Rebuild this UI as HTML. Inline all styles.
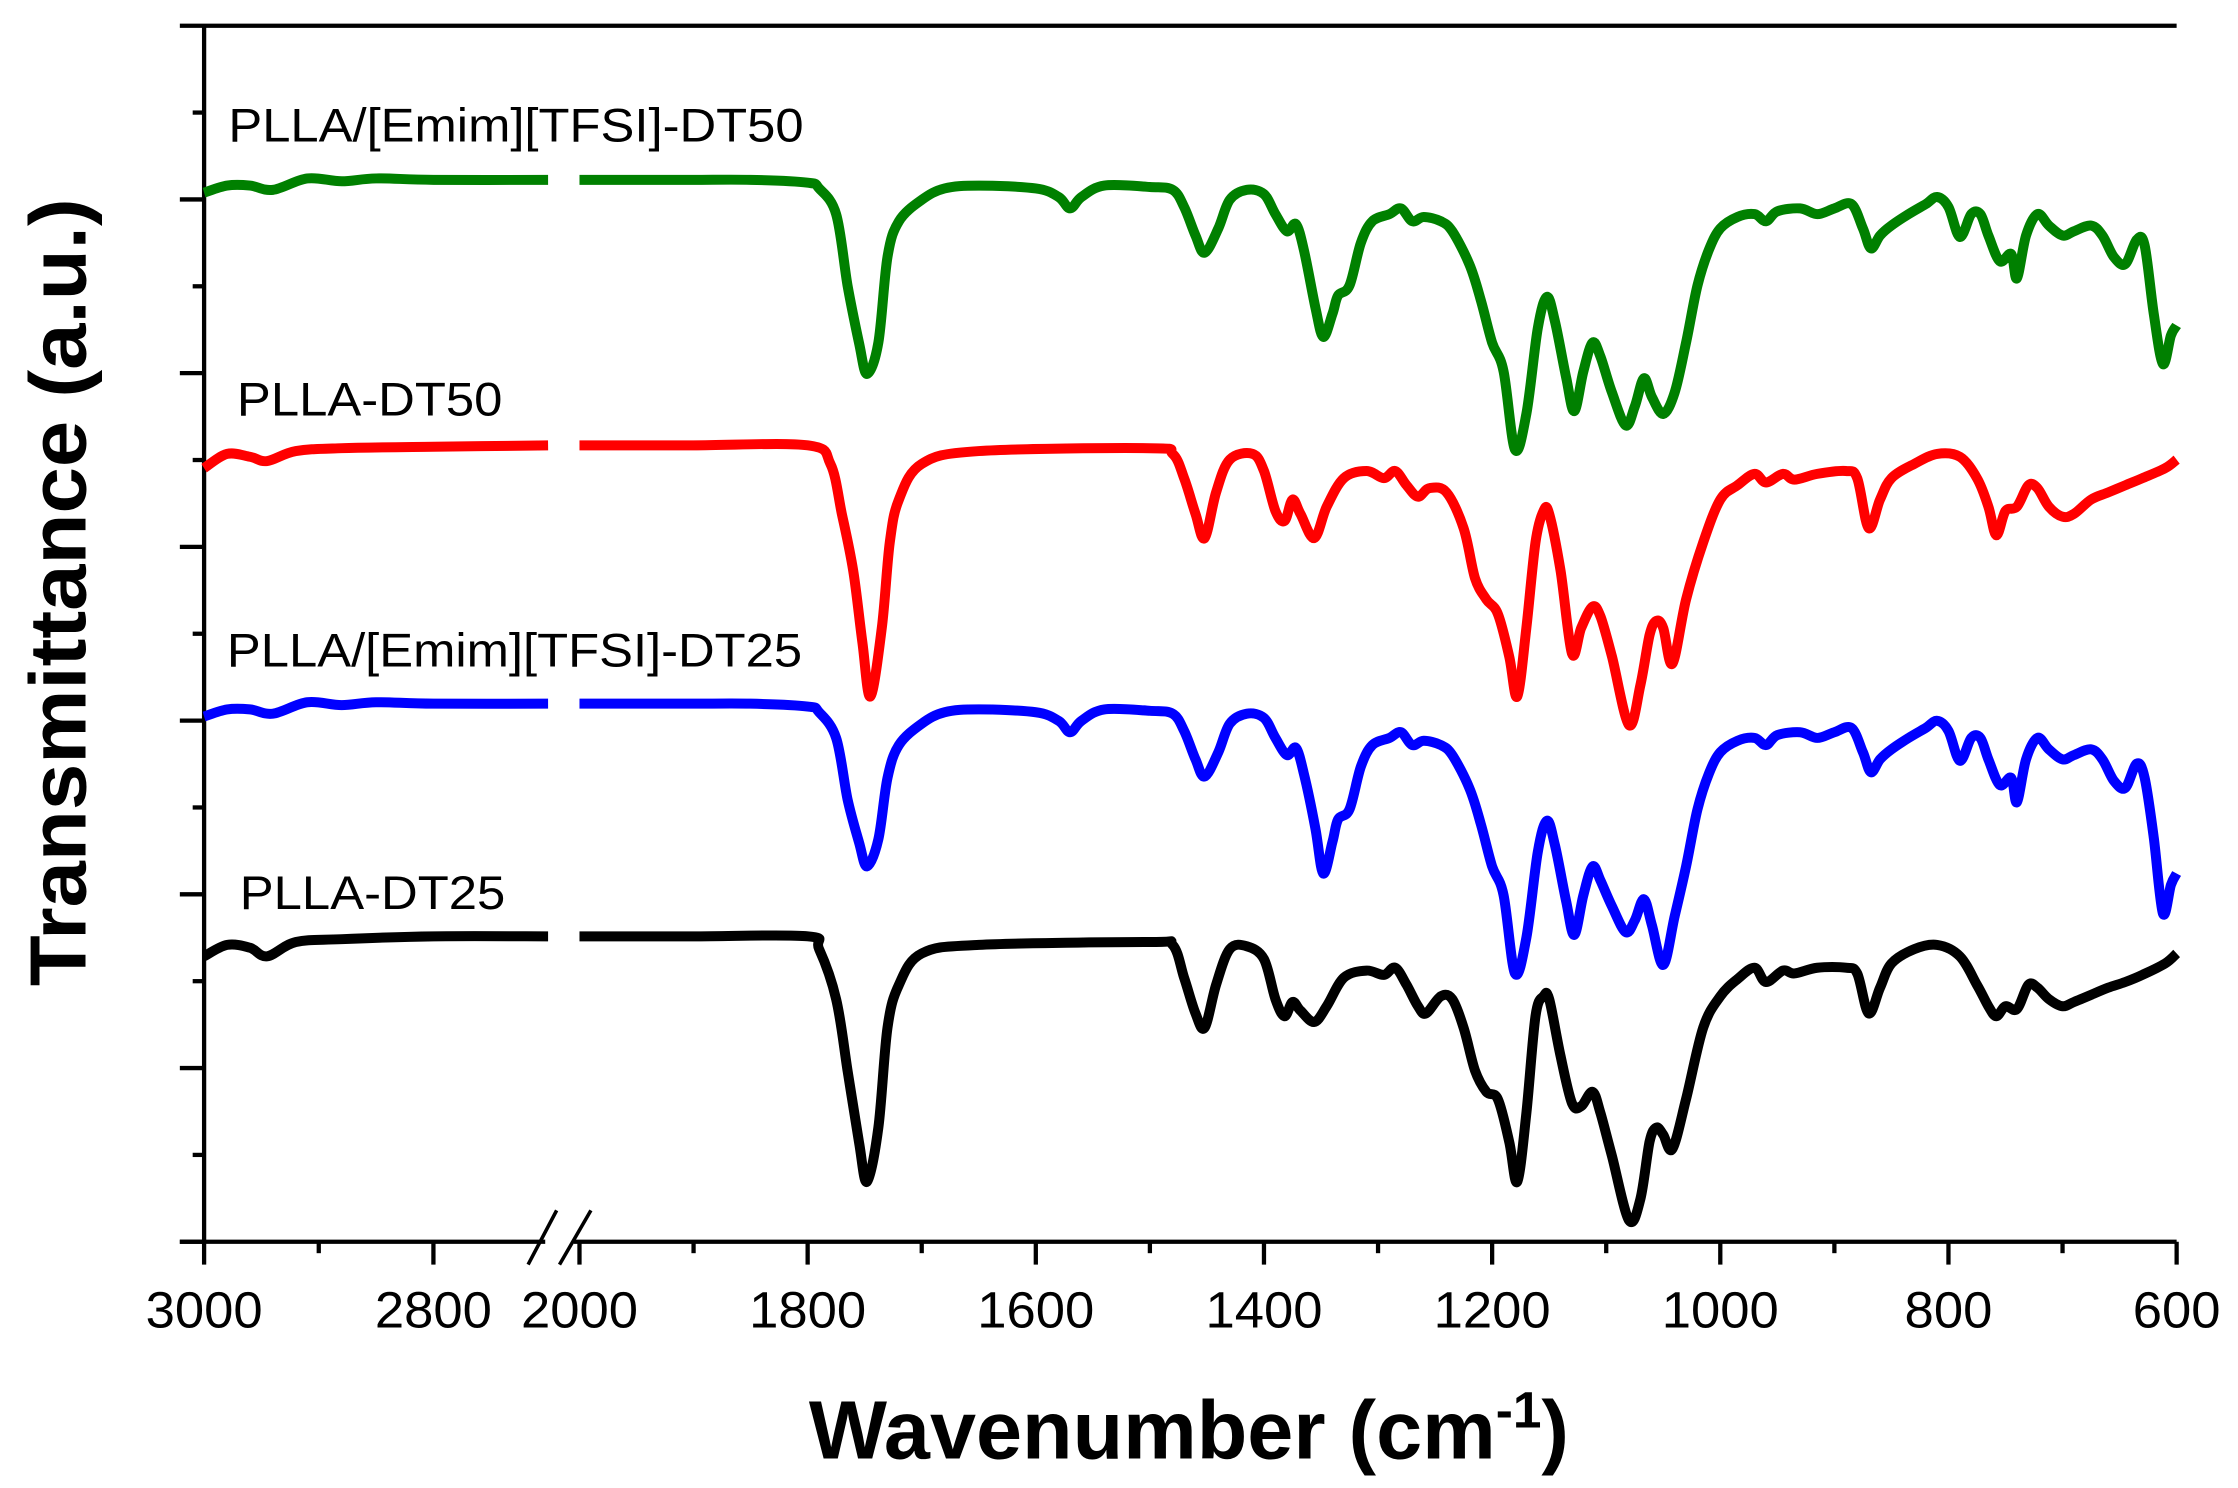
<!DOCTYPE html>
<html><head><meta charset="utf-8"><style>
html,body{margin:0;padding:0;background:#fff}
svg{display:block}
text{font-family:"Liberation Sans",Arial,sans-serif}
</style></head><body>
<svg id="chart" width="2238" height="1488" viewBox="0 0 1568 1042.5" xmlns="http://www.w3.org/2000/svg">
<g id="axes"></g>
<g id="series"></g>
<g id="labels">
<text x="160" y="99" font-size="33" textLength="403" lengthAdjust="spacingAndGlyphs">PLLA/[Emim][TFSI]-DT50</text>
<text x="166" y="291" font-size="33" textLength="186" lengthAdjust="spacingAndGlyphs">PLLA-DT50</text>
<text x="159" y="467" font-size="33" textLength="403" lengthAdjust="spacingAndGlyphs">PLLA/[Emim][TFSI]-DT25</text>
<text x="168" y="637" font-size="33" textLength="186" lengthAdjust="spacingAndGlyphs">PLLA-DT25</text>
<text x="833" y="1022" font-size="58" font-weight="bold" text-anchor="middle">Wavenumber (cm<tspan dy="-22" font-size="36">-1</tspan><tspan dy="22">)</tspan></text>
<text transform="translate(60,415) rotate(-90)" font-size="56" font-weight="bold" text-anchor="middle" textLength="552" lengthAdjust="spacingAndGlyphs">Transmittance (a.u.)</text>
</g>
</svg>
<script>
// ---- data (transmittance in arbitrary units, offset spectra) ----
const greenLeftWn=[3000,2980,2960,2940,2910,2880,2850,2800,2700];
const greenLeftT=[735,740,740,737,745,743,745,744,744];
const greenWn=[2000,1950,1900,1850,1800,1790,1775,1765,1755,1748,1738,1730,1720,1700,1680,1650,1600,1580,1570,1560,1540,1500,1480,1470,1460,1452,1440,1430,1415,1400,1390,1380,1372,1365,1355,1348,1340,1335,1325,1315,1305,1290,1280,1270,1260,1245,1235,1220,1210,1200,1190,1180,1170,1160,1152,1145,1135,1128,1120,1112,1105,1095,1083,1075,1067,1060,1050,1040,1030,1020,1010,1000,985,970,960,950,930,915,900,885,875,868,860,850,835,820,810,800,790,780,772,765,755,745,740,732,722,712,700,690,675,665,655,645,635,628,620,612,605,600];
const greenT=[744,744,744,744,742,738,720,670,630,608,630,690,715,730,738,740,738,732,724,732,740,739,737,725,705,693,710,730,737,734,720,708,713,695,655,634,650,663,670,700,715,720,724,715,718,715,708,685,660,630,610,555,580,640,662,645,605,582,610,630,620,595,572,585,605,592,580,595,630,670,695,710,718,720,715,722,724,720,724,727,710,696,705,712,720,727,732,725,704,720,720,705,687,692,675,705,720,712,705,708,712,705,690,685,702,698,650,615,635,642];
const blueLeftWn=[3000,2980,2960,2940,2910,2880,2850,2800,2700];
const blueLeftT=[368,373,373,370,378,376,378,377,377];
const blueWn=greenWn;
const blueT=[377,377,377,377,375,371,353,310,280,263,282,325,348,363,371,373,371,365,357,365,373,372,370,358,338,326,343,363,370,367,353,341,346,328,290,258,280,296,303,333,348,353,357,348,351,348,341,318,293,263,243,188,213,273,295,278,238,215,243,263,253,235,217,225,240,222,194,228,263,303,328,343,351,353,348,355,357,353,357,360,343,329,338,345,353,360,365,358,337,353,353,338,320,325,308,338,353,345,338,341,345,338,323,318,335,325,283,230,250,258];
const redLeftWn=[3000,2980,2960,2945,2920,2880,2800,2700];
const redLeftT=[542,552,550,547,554,556,557,558];
const redWn=[2000,1900,1800,1780,1770,1760,1752,1745,1735,1728,1720,1700,1650,1500,1480,1470,1460,1452,1442,1430,1410,1400,1390,1382,1375,1368,1356,1345,1330,1310,1295,1285,1275,1265,1255,1240,1225,1215,1205,1195,1185,1178,1170,1162,1155,1150,1140,1130,1122,1112,1105,1095,1080,1070,1062,1056,1050,1042,1030,1015,1000,985,970,960,945,935,915,890,880,870,860,850,830,810,790,775,765,758,750,740,730,722,712,700,690,675,660,645,630,610,600];
const redT=[558,558,558,545,510,470,420,382,430,490,520,545,554,556,552,535,510,493,525,548,552,540,512,505,520,510,493,515,535,540,535,540,530,522,528,525,500,465,450,440,410,382,430,490,512,510,470,412,430,445,438,410,362,390,425,435,430,405,450,490,520,530,538,532,538,534,538,540,535,500,520,535,545,552,550,535,515,495,512,515,530,528,515,508,510,520,525,530,535,542,548];
const blackLeftWn=[3000,2980,2960,2945,2920,2880,2800,2700];
const blackLeftT=[200,208,206,200,210,212,214,214];
const blackWn=[2000,1900,1800,1790,1775,1765,1755,1748,1738,1730,1720,1700,1650,1500,1480,1470,1460,1452,1442,1430,1415,1400,1390,1382,1375,1368,1356,1345,1330,1310,1295,1285,1275,1265,1258,1245,1235,1225,1215,1205,1195,1185,1178,1170,1162,1155,1150,1140,1130,1122,1112,1105,1095,1080,1070,1062,1056,1050,1042,1030,1015,1000,985,970,960,945,935,915,890,880,870,860,850,830,810,790,775,765,758,750,740,730,722,712,700,690,675,660,645,630,610,600];
const blackT=[214,214,214,205,170,120,70,42,80,150,180,202,208,210,208,185,160,150,180,205,207,198,170,158,168,162,154,165,185,190,187,192,180,165,160,172,170,150,120,105,100,70,42,90,158,172,170,130,97,95,105,90,60,15,30,70,80,75,65,100,150,172,184,192,182,190,188,192,192,188,160,178,195,205,208,200,180,165,158,165,163,180,178,170,165,168,173,178,182,187,195,202];
const xTicksLeft=[3000,2800];
const xMinorLeft=[2900];
const xTicksRight=[2000,1800,1600,1400,1200,1000,800,600];
const xMinorRight=[1900,1700,1500,1300,1100,900,700];
const yMajor=[1,2,3,4,5,6,7];

// ---- scales ----
const L=143,R=1525,TOP=18,BOT=870,BRK=384,RS=406;
function xLeft(w){return L+(3000-w)*(BRK-L)/300;}
function xRight(w){return RS+(2000-w)*(R-RS)/1400;}
function yS(t){return BOT-t;}
const yStep=(BOT-TOP)/7;
const NS="http://www.w3.org/2000/svg";
function mk(tag,attrs,parent){const e=document.createElementNS(NS,tag);for(const k in attrs)e.setAttribute(k,attrs[k]);parent.appendChild(e);return e;}
const axes=document.getElementById('axes');
const series=document.getElementById('series');

let e;
e=mk('line',{x1:L,y1:TOP,x2:L,y2:BOT,stroke:'#000','stroke-width':3},axes);


e=mk('line',{x1:L-17,y1:TOP,x2:R,y2:TOP,stroke:'#000','stroke-width':3},axes);


e=mk('line',{x1:L-17,y1:BOT,x2:382,y2:BOT,stroke:'#000','stroke-width':3},axes);


e=mk('line',{x1:402,y1:BOT,x2:R,y2:BOT,stroke:'#000','stroke-width':3},axes);


e=mk('path',{d:'M370,886 L390,848 M392,886 L414,848',stroke:'#000','stroke-width':2.5,fill:'none'},axes);


for(let i=0;i<7;i++){
  const y=BOT-yMajor[i]*yStep+yStep;
  e=mk('line',{x1:L-17,y1:y,x2:L,y2:y,stroke:'#000','stroke-width':3},axes);
  
  
  const ym=y-yStep/2;
  e=mk('line',{x1:L-8,y1:ym,x2:L,y2:ym,stroke:'#000','stroke-width':3},axes);
  
  
}
function xtick(x,lab,major){
  e=mk('line',{x1:x,y1:BOT,x2:x,y2:BOT+(major?16:8),stroke:'#000','stroke-width':3},axes);
  
  
  if(lab!==null){
    e=mk('text',{x:x,y:930,'font-size':36,'text-anchor':'middle',textLength:(lab.length*20.5),lengthAdjust:'spacingAndGlyphs'},axes);
    e.textContent=lab;
    
    
  }
}
xTicksLeft.forEach(w=>xtick(xLeft(w),String(w),true));
xMinorLeft.forEach(w=>xtick(xLeft(w),null,false));
xTicksRight.forEach(w=>xtick(xRight(w),String(w),true));
xMinorRight.forEach(w=>xtick(xRight(w),null,false));

// smooth path (Catmull-Rom)
function pathD(wn,t,fx){
  const p=wn.map((w,i)=>[fx(w),yS(t[i])]);
  let d='M'+p[0][0].toFixed(1)+','+p[0][1].toFixed(1);
  for(let i=0;i<p.length-1;i++){
    const p0=p[i-1]||p[i],p1=p[i],p2=p[i+1],p3=p[i+2]||p2;
    const c1x=p1[0]+(p2[0]-p0[0])/6,c1y=p1[1]+(p2[1]-p0[1])/6;
    const c2x=p2[0]-(p3[0]-p1[0])/6,c2y=p2[1]-(p3[1]-p1[1])/6;
    d+='C'+c1x.toFixed(1)+','+c1y.toFixed(1)+' '+c2x.toFixed(1)+','+c2y.toFixed(1)+' '+p2[0].toFixed(1)+','+p2[1].toFixed(1);
  }
  return d;
}
function draw(name,color,lw,lt,rw,rt){
  e=mk('path',{d:pathD(lw,lt,xLeft),stroke:color,'stroke-width':7,fill:'none','stroke-linejoin':'round','stroke-linecap':'butt'},series);
  
  
  e=mk('path',{d:pathD(rw,rt,xRight),stroke:color,'stroke-width':7,fill:'none','stroke-linejoin':'round','stroke-linecap':'butt'},series);
  
  
}
draw('series-plla-il-dt50','#008000',greenLeftWn,greenLeftT,greenWn,greenT);
draw('series-plla-dt50','#ff0000',redLeftWn,redLeftT,redWn,redT);
draw('series-plla-il-dt25','#0000ff',blueLeftWn,blueLeftT,blueWn,blueT);
draw('series-plla-dt25','#000000',blackLeftWn,blackLeftT,blackWn,blackT);
</script>
</body></html>
